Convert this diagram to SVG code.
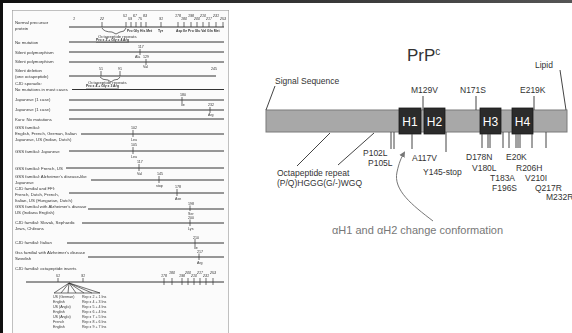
<svg xmlns="http://www.w3.org/2000/svg" width="572" height="333" viewBox="0 0 572 333">
<defs>
<style>
.pt{font-family:"Liberation Sans",Arial,sans-serif;font-size:4.3px;fill:#333}
.pm{font-family:"Liberation Sans",Arial,sans-serif;font-size:3.6px;fill:#333}
.pb{font-family:"Liberation Sans",Arial,sans-serif;font-size:3.4px;fill:#333;font-weight:bold}
.pr{stroke:#333;stroke-width:1;fill:none}
.pk{stroke:#333;stroke-width:0.7;fill:none}
.lb{font-family:"Liberation Sans",Arial,sans-serif;font-size:8.5px;fill:#333}
.hx{fill:#2b2b2b;stroke:#1a1a1a;stroke-width:0.8}
.ht{font-family:"Liberation Sans",Arial,sans-serif;font-size:12px;fill:#fff;text-anchor:middle}
.cn{stroke:#444;stroke-width:1;fill:none}
</style>
<filter id="scan" x="0" y="0" width="1" height="1"><feGaussianBlur stdDeviation="0.35"/></filter>
<linearGradient id="topbar" x1="0" y1="0" x2="1" y2="0"><stop offset="0" stop-color="#111"/><stop offset="1" stop-color="#555"/></linearGradient>
<marker id="ah" markerWidth="8" markerHeight="8" refX="4" refY="4" orient="auto" markerUnits="userSpaceOnUse"><path d="M0,1 L6,4 L0,7 Z" fill="#777"/></marker>
</defs>
<rect x="0" y="0" width="572" height="333" fill="#fff"/>
<rect x="0" y="0" width="572" height="3" fill="url(#topbar)"/>
<rect x="0" y="0" width="3" height="333" fill="#111"/>

<!-- scanned page (drawn directly) -->
<g id="page" filter="url(#scan)">
<rect x="12" y="10" width="217" height="330" fill="#fbfbfb" stroke="#999" stroke-width="1.2"/>
<!-- row 1 -->
<text class="pt" x="15" y="24">Normal precursor</text>
<text class="pt" x="15" y="30">protein</text>
<line class="pr" x1="69" y1="27" x2="224" y2="27"/>
<g class="pm" font-style="italic" font-size="3">
<text x="73" y="20">1</text><text x="100" y="20">22</text><text x="123" y="17">51</text><text x="128" y="20">59</text><text x="133" y="17">67</text><text x="138" y="20">75</text><text x="143" y="17">83</text><text x="159" y="20">91</text><text x="175" y="17">178</text><text x="181" y="20">180</text><text x="188" y="17">198</text><text x="194" y="20">200</text><text x="200" y="17">210</text><text x="206" y="20">217</text><text x="213" y="17">231</text><text x="220" y="20">253</text>
</g>
<path class="pk" d="M102,22V27M126,22V27M131,22V27M136,22V27M141,22V27M146,22V27M161,22V27M178,22V27M184,22V27M191,22V27M197,22V27M203,22V27M209,22V27M216,22V27M223,22V27"/>
<text class="pb" x="127" y="32">Pro Gly His Met</text><text class="pb" x="158" y="32">Tyr</text><text class="pb" x="176" y="32">Asp Ile Pro Glu Val Gln Met</text>
<path class="pk" d="M102,28 Q104,32 112,32 L116,34 L120,32 Q125,32 126,28"/>
<text class="pt" x="98" y="37.5">Octapeptide repeats</text>
<text class="pb" x="96" y="41" text-decoration="underline">Pro x 2 + Gly x 4 Arg</text>
<!-- rows 2-4 -->
<text class="pt" x="15" y="44">No mutation</text>
<line class="pr" x1="69" y1="42" x2="224" y2="42"/>
<text class="pt" x="15" y="54">Silent polymorphism</text>
<line class="pr" x1="69" y1="52" x2="224" y2="52"/>
<text class="pm" x="138" y="48">117</text><line class="pk" x1="140" y1="49" x2="140" y2="55"/>
<text class="pm" x="135" y="58">Ala</text><text class="pm" x="143" y="58">129</text>
<text class="pt" x="15" y="63">Silent polymorphism</text>
<line class="pr" x1="69" y1="62" x2="224" y2="62"/>
<line class="pk" x1="146" y1="59" x2="146" y2="65"/><text class="pm" x="143" y="68">Val</text>
<!-- row 5-6 -->
<text class="pt" x="15" y="72">Silent deletion</text>
<text class="pt" x="15" y="78">(one octapeptide)</text>
<line class="pr" x1="69" y1="76" x2="216" y2="76"/>
<text class="pm" x="99" y="70">51</text><text class="pm" x="118" y="70">91</text><text class="pm" x="211" y="70">245</text>
<path class="pk" d="M101,71V76M120,71V76"/>
<path class="pk" d="M100,77 Q102,80 108,80 L111,82 L114,80 Q119,80 120,77"/>
<text class="pt" x="88" y="83.5">Octapeptide repeats</text>
<text class="pb" x="86" y="87" text-decoration="underline">Pro x 4 + Gly x 3 Arg</text>
<text class="pt" x="15" y="85">CJD sporadic:</text>
<text class="pt" x="15" y="91">No mutations in most cases</text>
<line class="pr" x1="72" y1="89.5" x2="224" y2="89.5" stroke-width="1.4"/>
<!-- rows 8-10 -->
<text class="pt" x="15" y="101">Japanese (1 case)</text>
<line class="pr" x1="69" y1="100" x2="224" y2="100"/>
<text class="pm" x="180" y="96">180</text><line class="pk" x1="182" y1="97" x2="182" y2="103"/><text class="pm" x="181" y="106">Ile</text>
<text class="pt" x="15" y="111">Japanese (1 case)</text>
<line class="pr" x1="69" y1="110" x2="224" y2="110"/>
<text class="pm" x="208" y="106">232</text><line class="pk" x1="210" y1="107" x2="210" y2="113"/><text class="pm" x="208" y="116">Arg</text>
<text class="pt" x="15" y="121">Kuru: No mutations</text>
<line class="pr" x1="69" y1="119" x2="224" y2="119"/>
<!-- row 11 -->
<text class="pt" x="15" y="129">GSS familial:</text>
<text class="pt" x="15" y="135">English, French, German, Italian</text>
<text class="pt" x="15" y="141">Japanese, US (Indian, Dutch)</text>
<line class="pr" x1="81" y1="134" x2="224" y2="134"/>
<text class="pm" x="131" y="129">102</text><line class="pk" x1="133" y1="130" x2="133" y2="137"/><text class="pm" x="131" y="141">Leu</text>
<!-- row 12 -->
<text class="pt" x="15" y="153">GSS familial: Japanese</text>
<line class="pr" x1="69" y1="151" x2="224" y2="151"/>
<text class="pm" x="131" y="146">105</text><line class="pk" x1="133" y1="147" x2="133" y2="154"/><text class="pm" x="131" y="158">Leu</text>
<!-- row 13 -->
<text class="pt" x="15" y="170">GSS familial: French, US</text>
<line class="pr" x1="66" y1="168" x2="224" y2="168"/>
<text class="pm" x="137" y="163">117</text><line class="pk" x1="139" y1="164" x2="139" y2="171"/><text class="pm" x="137" y="175">Val</text>
<!-- row 14 -->
<text class="pt" x="15" y="178">GSS familial: Alzheimer's disease-like</text>
<text class="pt" x="15" y="184">Japanese</text>
<line class="pr" x1="91" y1="180" x2="224" y2="180"/>
<text class="pm" x="157" y="175">145</text><line class="pk" x1="159" y1="176" x2="159" y2="183"/><text class="pm" x="156" y="187">stop</text>
<!-- row 15 -->
<text class="pt" x="15" y="190">CJD familial and FFI:</text>
<text class="pt" x="15" y="196">French, Dutch, French,</text>
<text class="pt" x="15" y="202">Italian, US (Hungarian, Dutch)</text>
<line class="pr" x1="69" y1="193" x2="224" y2="193"/>
<text class="pm" x="175" y="188">178</text><line class="pk" x1="177" y1="189" x2="177" y2="196"/><text class="pm" x="175" y="200">Asn</text>
<!-- row 16 -->
<text class="pt" x="15" y="208">GSS familial with Alzheimer's disease</text>
<text class="pt" x="15" y="214">US (Indiana English)</text>
<line class="pr" x1="88" y1="209" x2="224" y2="209"/>
<text class="pm" x="188" y="204.5">198</text><line class="pk" x1="190" y1="205.5" x2="190" y2="211"/><text class="pm" x="188" y="214.5">Ser</text>
<!-- row 17 -->
<text class="pt" x="15" y="224">CJD familial: Slovak, Sephardic</text>
<text class="pt" x="15" y="230">Jews, Chileans</text>
<line class="pr" x1="82" y1="223" x2="224" y2="223"/>
<text class="pm" x="188" y="219">200</text><line class="pk" x1="190" y1="219.5" x2="190" y2="226"/><text class="pm" x="188" y="229.5">Lys</text>
<!-- row 18 -->
<text class="pt" x="15" y="244">CJD familial: Italian</text>
<line class="pr" x1="67" y1="243" x2="224" y2="243"/>
<text class="pm" x="193" y="238.5">210</text><line class="pk" x1="195" y1="239" x2="195" y2="246"/><text class="pm" x="194" y="249">Ile</text>
<!-- row 19 -->
<text class="pt" x="15" y="254">Gss familial with Alzheimer's disease</text>
<text class="pt" x="15" y="260">Swedish</text>
<line class="pr" x1="88" y1="257" x2="224" y2="257"/>
<text class="pm" x="197" y="253">217</text><line class="pk" x1="199" y1="253.5" x2="199" y2="260"/><text class="pm" x="197" y="264">Arg</text>
<!-- row 20 -->
<text class="pt" x="15" y="270">CJD familial: octapeptide inserts</text>
<line class="pr" x1="26" y1="282" x2="224" y2="282" stroke-width="1.3"/>
<g class="pm" font-style="italic" font-size="3">
<text x="56" y="277">51</text><text x="81" y="277">91</text><text x="161" y="277">178</text><text x="169" y="274">180</text><text x="179" y="277">198</text><text x="185" y="274">200</text><text x="191" y="277">210</text><text x="197" y="274">217</text><text x="203" y="277">231</text><text x="210" y="274">253</text>
</g>
<path class="pk" d="M58,278V282M83,278V282M164,278V285M172,278V285M182,278V285M188,278V285M194,278V285M200,278V285M206,278V285M213,278V285"/>
<path class="pk" d="M69,283L54,293M69,283L61,293M69,283L68,293M69,283L76,293M69,283L84,293M69,283L92,293M69,283L100,293M54,293H100"/>
<g class="pm">
<text x="53" y="297.5">US (German)</text><text x="82" y="297.5">Rep x 2 + 1 Ins</text>
<text x="53" y="302.5">English</text><text x="82" y="302.5">Rep x 4 + 3 Ins</text>
<text x="53" y="307.5">US (Anglo)</text><text x="82" y="307.5">Rep x 5 + 4 Ins</text>
<text x="53" y="312.5">English</text><text x="82" y="312.5">Rep x 6 + 4 Ins</text>
<text x="53" y="317.5">US (Anglo)</text><text x="82" y="317.5">Rep x 7 + 5 Ins</text>
<text x="53" y="322.5">French</text><text x="82" y="322.5">Rep x 8 + 6 Ins</text>
<text x="53" y="327.5">English</text><text x="82" y="327.5">Rep x 9 + 7 Ins</text>
</g>
</g>

<!-- PrPc diagram -->
<g id="title"><text x="407" y="61" font-family="Liberation Sans,Arial,sans-serif" font-size="17" fill="#333">PrP<tspan font-size="10" dy="-6">c</tspan></text></g>
<g id="bar"><rect x="266" y="110" width="301" height="22" fill="#a8a8a8" stroke="#7a7a7a" stroke-width="1"/></g>
<g id="H1"><rect class="hx" x="399" y="108" width="22" height="26"/><text class="ht" x="410" y="126">H1</text></g>
<g id="H2"><rect class="hx" x="424" y="108" width="21" height="26"/><text class="ht" x="434.5" y="126">H2</text></g>
<g id="H3"><rect class="hx" x="480" y="108" width="21" height="26"/><text class="ht" x="490.5" y="126">H3</text></g>
<g id="H4"><rect class="hx" x="512" y="108" width="21" height="26"/><text class="ht" x="522.5" y="126">H4</text></g>

<g id="connectors">
<path class="cn" d="M275,86L266,110"/>
<path class="cn" d="M560,70L566,110"/>
<path class="cn" d="M423,96V110M476,96V110M534,96V110"/>
<path class="cn" d="M391,132V149M394,132V149M412,134V149M446,132V152M482,134V148M488,134V148M490,134V148M503,132V148M509,132V148M516,134V148M518,134V148M520,134V148M532,134V148M546,132V148"/>
<path class="cn" d="M330,133L297,166M374,133L338,165"/>
<path d="M433,221 C412,205 393,190 397,172 C399,163 401,158 404,153" stroke="#777" stroke-width="1" fill="none" marker-end="url(#ah)"/>
</g>

<g id="labels">
<text class="lb" x="275" y="84" font-size="10">Signal Sequence</text>
<text class="lb" x="535" y="68" font-size="9.5">Lipid</text>
<text class="lb" x="411" y="93">M129V</text>
<text class="lb" x="460" y="93">N171S</text>
<text class="lb" x="520" y="93">E219K</text>
<text class="lb" x="363" y="156">P102L</text>
<text class="lb" x="368" y="166">P105L</text>
<text class="lb" x="412" y="161">A117V</text>
<text class="lb" x="423" y="175">Y145-stop</text>
<text class="lb" x="466" y="160">D178N</text>
<text class="lb" x="472" y="171">V180L</text>
<text class="lb" x="490" y="181">T183A</text>
<text class="lb" x="492" y="191">F196S</text>
<text class="lb" x="506" y="160">E20K</text>
<text class="lb" x="516" y="171">R206H</text>
<text class="lb" x="525" y="181">V210I</text>
<text class="lb" x="535" y="191">Q217R</text>
<text class="lb" x="546" y="200" font-size="8">M232R</text>
<text class="lb" x="277" y="176" font-size="8">Octapeptide repeat</text>
<text class="lb" x="277" y="186" font-size="8.2">(P/Q)HGGG(G/-)WGQ</text>
<text x="332" y="234" font-family="Liberation Sans,Arial,sans-serif" font-size="11" fill="#777">αH1 and αH2 change conformation</text>
</g>
</svg>
